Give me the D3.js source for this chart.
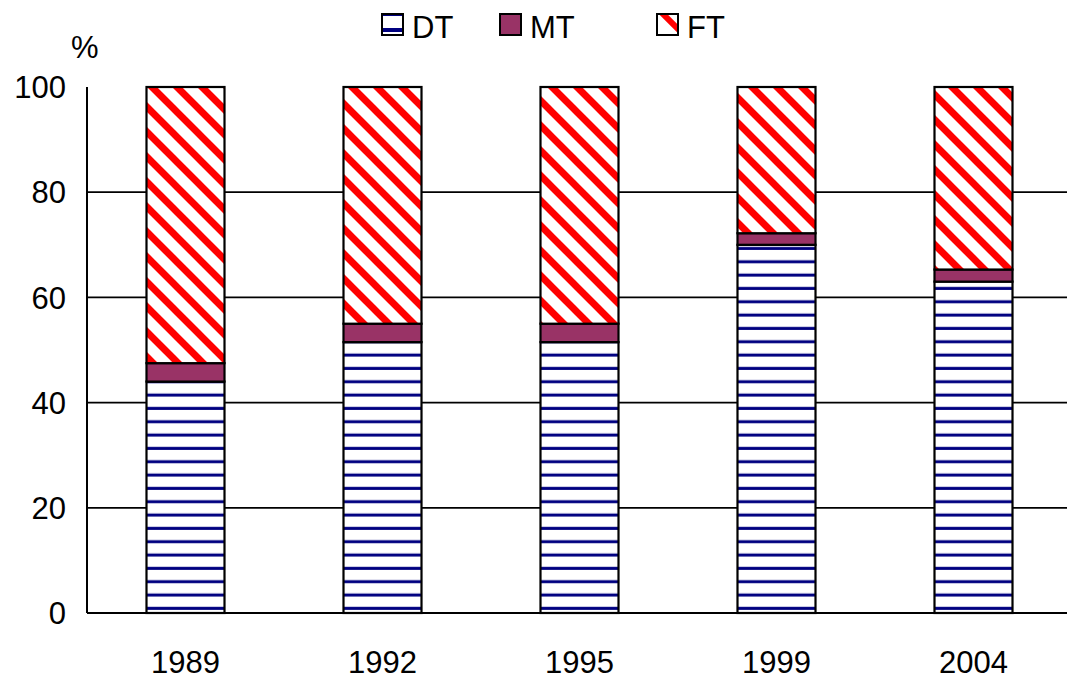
<!DOCTYPE html>
<html>
<head>
<meta charset="utf-8">
<script src="https://cdn.jsdelivr.net/npm/d3@7"></script>
<style>
  html, body { margin: 0; padding: 0; background: #fff; }
  svg { display: block; }
  text { font-family: "Liberation Sans", Arial, sans-serif; fill: #000; }
</style>
</head>
<body>
<svg id="chart" width="1067" height="683"></svg>
<script>
const years = ["1989", "1992", "1995", "1999", "2004"];
const seriesNames = ["DT", "MT", "FT"];
const dtValues = [44, 51.5, 51.5, 70, 63];
const mtValues = [3.5, 3.5, 3.5, 2.2, 2.3];
const ftValues = [52.5, 45, 45, 27.8, 34.7];
const yTicks = [0, 20, 40, 60, 80, 100];

const svg = d3.select("#chart");
const W = 1067, H = 683;
const plot = { left: 87, right: 1072, top: 87, bottom: 613 };

const x = d3.scaleBand().domain(years).range([plot.left, plot.right])
  .paddingInner(0.604).paddingOuter(0.302);
const y = d3.scaleLinear().domain([0, 100]).range([plot.bottom, plot.top]);

const defs = svg.append("defs");
// DT pattern: white with navy horizontal lines
const pDT = defs.append("pattern").attr("id", "pDT").attr("patternUnits", "userSpaceOnUse")
  .attr("width", 20).attr("height", 13.33).attr("y", 1.5);
pDT.append("rect").attr("width", 20).attr("height", 13.33).attr("fill", "#fff");
pDT.append("rect").attr("y", 5.5).attr("width", 20).attr("height", 3).attr("fill", "#000080");
// FT pattern: white with red diagonal stripes
const pFT = defs.append("pattern").attr("id", "pFT").attr("patternUnits", "userSpaceOnUse")
  .attr("width", 25).attr("height", 25).attr("patternTransform", "translate(0,10)");
pFT.append("rect").attr("width", 25).attr("height", 25).attr("fill", "#fff");
pFT.append("path").attr("d", "M-5,-5L30,30M-5,20L5,30M20,-5L30,5")
  .attr("stroke", "#ff0000").attr("stroke-width", 7).attr("fill", "none");
// legend FT pattern
const pFTl = defs.append("pattern").attr("id", "pFTl").attr("patternUnits", "userSpaceOnUse")
  .attr("width", 40).attr("height", 40).attr("patternTransform", "translate(655,6)");
pFTl.append("rect").attr("width", 40).attr("height", 40).attr("fill", "#fff");
pFTl.append("path").attr("d", "M0,0L40,40")
  .attr("stroke", "#ff0000").attr("stroke-width", 6).attr("fill", "none");

const fills = { DT: "url(#pDT)", MT: "#993366", FT: "url(#pFT)" };

// gridlines
svg.append("g").selectAll("line").data(yTicks.filter(d => d > 0 && d < 100)).join("line")
  .attr("x1", plot.left).attr("x2", W)
  .attr("y1", d => y(d)).attr("y2", d => y(d))
  .attr("stroke", "#000").attr("stroke-width", 1.8);

// stacked bars
const rows = years.map((yr, i) => ({ year: yr, DT: dtValues[i], MT: mtValues[i], FT: ftValues[i] }));
const stacked = d3.stack().keys(seriesNames)(rows);
svg.append("g").selectAll("g").data(stacked).join("g")
  .attr("fill", s => fills[s.key])
  .selectAll("rect").data(s => s).join("rect")
  .attr("x", d => x(d.data.year))
  .attr("width", x.bandwidth())
  .attr("y", d => y(d[1]))
  .attr("height", d => y(d[0]) - y(d[1]))
  .attr("stroke", "#000").attr("stroke-width", 2.2);

// axes lines
svg.append("line").attr("x1", plot.left).attr("x2", W)
  .attr("y1", y(0)).attr("y2", y(0)).attr("stroke", "#000").attr("stroke-width", 2);
svg.append("line").attr("x1", plot.left).attr("x2", plot.left)
  .attr("y1", y(0)).attr("y2", y(100)).attr("stroke", "#000").attr("stroke-width", 2);

// y tick labels
svg.append("g").selectAll("text").data(yTicks).join("text")
  .attr("x", 66).attr("y", d => y(d)).attr("dy", "0.36em")
  .attr("text-anchor", "end").attr("font-size", 31).text(d => d);

// x labels
svg.append("g").selectAll("text").data(years).join("text")
  .attr("x", d => x(d) + x.bandwidth() / 2).attr("y", 673)
  .attr("text-anchor", "middle").attr("font-size", 31).text(d => d);

// % label
svg.append("text").attr("x", 71).attr("y", 58).attr("font-size", 31).text("%");

// legend
const legendItems = [
  { name: "DT", bx: 382, tx: 412 },
  { name: "MT", bx: 500, tx: 530 },
  { name: "FT", bx: 657, tx: 687 }
];
const lg = svg.append("g");
legendItems.forEach(it => {
  const g = lg.append("g");
  if (it.name === "DT") {
    g.append("rect").attr("x", it.bx).attr("y", 14).attr("width", 21).attr("height", 21).attr("fill", "#fff");
    g.append("rect").attr("x", it.bx + 1).attr("y", 14.5).attr("width", 19).attr("height", 1.5).attr("fill", "#000080");
    g.append("rect").attr("x", it.bx + 1).attr("y", 28).attr("width", 19).attr("height", 4).attr("fill", "#000080");
    g.append("rect").attr("x", it.bx).attr("y", 14).attr("width", 21).attr("height", 21)
      .attr("fill", "none").attr("stroke", "#000").attr("stroke-width", 2);
  } else {
    g.append("rect").attr("x", it.bx).attr("y", 14).attr("width", 21).attr("height", 21)
      .attr("fill", it.name === "MT" ? "#993366" : "url(#pFTl)")
      .attr("stroke", "#000").attr("stroke-width", 2);
  }
  g.append("text").attr("x", it.tx).attr("y", 37.5).attr("font-size", 31).text(it.name);
});
</script>
</body>
</html>
